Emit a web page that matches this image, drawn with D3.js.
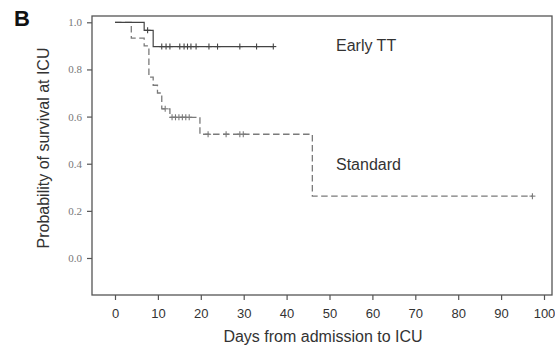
<!DOCTYPE html>
<html>
<head>
<meta charset="utf-8">
<script src="https://cdn.jsdelivr.net/npm/d3@7"></script>
<style>
  body { margin: 0; background: #fff; }
  svg { display: block; }
</style>
</head>
<body>
<div id="chart"></div>
<script>

// Kaplan-Meier steps: [day, survival]
const earlySteps = [[0, 1.0], [6.8, 0.966], [8.9, 0.897]];
const earlyEnd = 37;
const earlyCensor = [[7.6, 0.966], [10.9, 0.897], [11.9, 0.897], [12.8, 0.897], [15.1, 0.897], [16.1, 0.897],
	[16.9, 0.897], [17.7, 0.897], [18.9, 0.897], [21.9, 0.897], [23.9, 0.897], [29.1, 0.897], [33.0, 0.897], [36.9, 0.897]];

const standardSteps = [[0, 1.0], [3.8, 0.933], [6.8, 0.9], [7.9, 0.767], [8.9, 0.733], [9.9, 0.7],
	[10.9, 0.633], [12.8, 0.597], [19.8, 0.525], [46, 0.2625]];
const standardEnd = 97.3;
const standardCensor = [[11.7, 0.633], [13.3, 0.597], [14.1, 0.597], [14.9, 0.597], [15.7, 0.597], [16.5, 0.597],
	[17.3, 0.597], [21.7, 0.525], [25.9, 0.525], [29.1, 0.525], [29.9, 0.525], [97.3, 0.2625]];

const xTicks = [0, 10, 20, 30, 40, 50, 60, 70, 80, 90, 100];
const yTicks = [0, 0.2, 0.4, 0.6, 0.8, 1.0];

const width = 555;
const height = 348;

// plot frame
const box = {left: 92, right: 552, top: 16, bottom: 295};

let svg = d3.select("#chart")
	.append("svg")
	.attr("width", width)
	.attr("height", height);

let x = d3.scaleLinear().domain([0, 100]).range([115, 544]);
let y = d3.scaleLinear().domain([0, 1]).range([258, 22.3]);

// frame
svg.append("rect")
	.attr("x", box.left)
	.attr("y", box.top)
	.attr("width", box.right - box.left)
	.attr("height", box.bottom - box.top)
	.attr("fill", "none")
	.attr("stroke", "#555")
	.attr("stroke-width", 1.3);

// y axis
let yAxis = svg.append("g")
	.attr("transform", "translate(" + box.left + ",0)")
	.call(d3.axisLeft(y).tickValues(yTicks).tickFormat(d3.format(".1f")).tickSize(5).tickPadding(5));
yAxis.select(".domain").remove();
yAxis.selectAll("line").attr("stroke", "#555").attr("stroke-width", 1.2);
yAxis.selectAll("text")
	.attr("font-family", "Liberation Serif, serif")
	.attr("font-size", "11px")
	.attr("fill", "#777");

// x axis
let xAxis = svg.append("g")
	.attr("transform", "translate(0," + box.bottom + ")")
	.call(d3.axisBottom(x).tickValues(xTicks).tickSize(5).tickPadding(9));
xAxis.select(".domain").remove();
xAxis.selectAll("line").attr("stroke", "#555").attr("stroke-width", 1.2);
xAxis.selectAll("text")
	.attr("font-family", "Liberation Sans, Arial, sans-serif")
	.attr("font-size", "13px")
	.attr("fill", "#333");

// curves
function stepPath(steps, end) {
	let pts = steps.slice();
	pts.push([end, steps[steps.length - 1][1]]);
	return d3.line()
		.x(d => x(d[0]))
		.y(d => y(d[1]))
		.curve(d3.curveStepAfter)(pts);
}

svg.append("path")
	.attr("d", stepPath(standardSteps, standardEnd))
	.attr("fill", "none")
	.attr("stroke", "#7a7a7a")
	.attr("stroke-width", 1.3)
	.attr("stroke-dasharray", "6.5,3.5");

svg.append("path")
	.attr("d", stepPath(earlySteps, earlyEnd))
	.attr("fill", "none")
	.attr("stroke", "#444")
	.attr("stroke-width", 1.2);

// censor marks
function censorMarks(data, color) {
	let g = svg.append("g").attr("stroke", color).attr("stroke-width", 1.1);
	g.selectAll(".v")
		.data(data)
		.enter()
		.append("line")
		.attr("x1", d => x(d[0]))
		.attr("x2", d => x(d[0]))
		.attr("y1", d => y(d[1]) - 3)
		.attr("y2", d => y(d[1]) + 3);
	g.selectAll(".h")
		.data(data)
		.enter()
		.append("line")
		.attr("x1", d => x(d[0]) - 3)
		.attr("x2", d => x(d[0]) + 3)
		.attr("y1", d => y(d[1]))
		.attr("y2", d => y(d[1]));
}
censorMarks(standardCensor, "#7a7a7a");
censorMarks(earlyCensor, "#444");

// labels
svg.append("text")
	.attr("x", 336)
	.attr("y", 51)
	.attr("font-family", "Liberation Sans, Arial, sans-serif")
	.attr("font-size", "16px")
	.attr("fill", "#333")
	.text("Early TT");

svg.append("text")
	.attr("x", 336)
	.attr("y", 170)
	.attr("font-family", "Liberation Sans, Arial, sans-serif")
	.attr("font-size", "16px")
	.attr("fill", "#333")
	.text("Standard");

svg.append("text")
	.attr("x", 323)
	.attr("y", 342)
	.attr("text-anchor", "middle")
	.attr("font-family", "Liberation Sans, Arial, sans-serif")
	.attr("font-size", "16px")
	.attr("fill", "#333")
	.text("Days from admission to ICU");

svg.append("text")
	.attr("transform", "translate(49,148) rotate(-90)")
	.attr("text-anchor", "middle")
	.attr("font-family", "Liberation Sans, Arial, sans-serif")
	.attr("font-size", "16px")
	.attr("fill", "#333")
	.text("Probability of survival at ICU");

svg.append("text")
	.attr("x", 14)
	.attr("y", 26)
	.attr("font-family", "Liberation Sans, Arial, sans-serif")
	.attr("font-size", "22px")
	.attr("font-weight", "bold")
	.attr("fill", "#111")
	.text("B");

</script>
</body>
</html>
